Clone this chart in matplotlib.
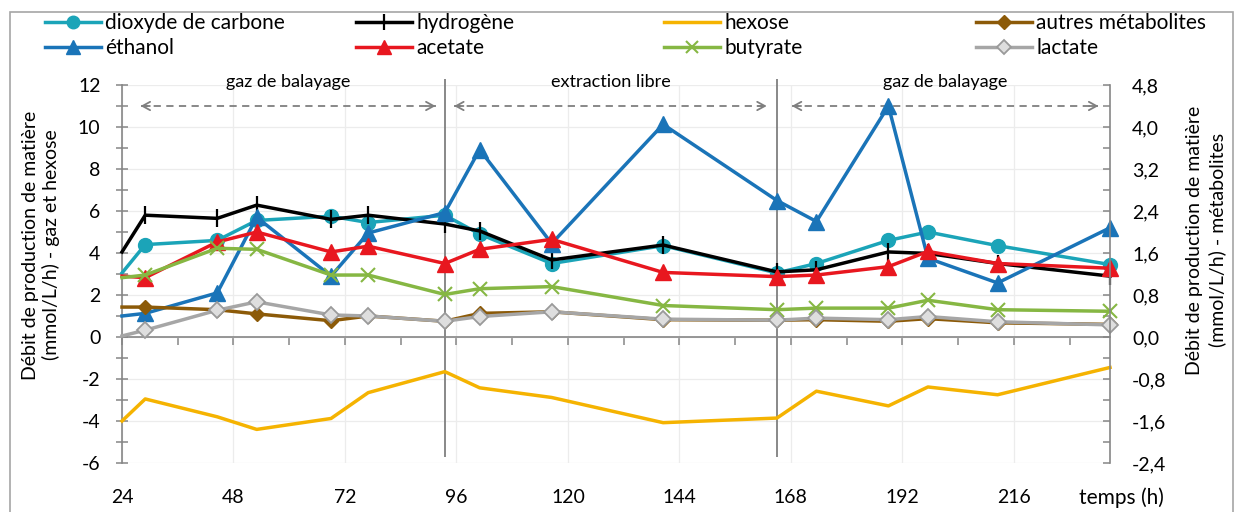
import matplotlib
matplotlib.use('Agg')
import matplotlib.pyplot as plt
from matplotlib.patches import Rectangle
from matplotlib.ticker import FixedLocator, FuncFormatter

plt.rcParams['font.family'] = ['Lato', 'DejaVu Sans']
plt.rcParams['axes.unicode_minus'] = False

# sampling times (h)
temps = [24, 29, 44.5, 53, 69, 77, 93.5, 101, 116.5, 140.5, 165, 173.5, 189, 197.5, 212.5, 236.7]

# gases and hexose, left axis (mmol/L/h)
co2 = [3.05, 4.4, 4.6, 5.55, 5.75, 5.45, 5.8, 4.9, 3.5, 4.35, 3.05, 3.5, 4.6, 5.0, 4.35, 3.45]
h2 = [4.05, 5.8, 5.65, 6.28, 5.6, 5.8, 5.38, 5.05, 3.67, 4.38, 3.1, 3.2, 4.05, 3.98, 3.5, 2.9]
hexose = [-4.0, -2.95, -3.8, -4.4, -3.88, -2.65, -1.65, -2.42, -2.88, -4.08, -3.86, -2.58,
          -3.28, -2.38, -2.75, -1.45]

# metabolites, right axis (mmol/L/h)
ethanol = [0.40, 0.45, 0.84, 2.28, 1.16, 1.98, 2.37, 3.57, 1.78, 4.05, 2.6, 2.2, 4.4, 1.5, 1.03, 2.08]
acetate = [1.16, 1.13, 1.81, 2.0, 1.62, 1.73, 1.40, 1.67, 1.86, 1.23, 1.15, 1.18, 1.34, 1.63, 1.40, 1.31]
butyrate = [1.13, 1.18, 1.69, 1.67, 1.18, 1.18, 0.81, 0.92, 0.96, 0.60, 0.52, 0.55, 0.55, 0.70, 0.52, 0.49]
autres = [0.57, 0.57, 0.52, 0.44, 0.31, 0.40, 0.30, 0.45, 0.48, 0.33, 0.32, 0.33, 0.30, 0.35, 0.27, 0.24]
lactate = [0.02, 0.13, 0.51, 0.67, 0.42, 0.40, 0.30, 0.39, 0.48, 0.34, 0.32, 0.36, 0.33, 0.39, 0.29, 0.23]

# operating phases: (label, start, end) in h, and the switch times
phases = [('gaz de balayage', 28, 91.5),
          ('extraction libre', 95.5, 162.8),
          ('gaz de balayage', 168.2, 234.2)]
switches = [93.5, 165]

xticks = [24, 48, 72, 96, 120, 144, 168, 192, 216]

W, H = 1238, 512
fig = plt.figure(figsize=(W / 100, H / 100), dpi=100)
ax = fig.add_axes([122 / W, 49 / H, 988 / W, 378 / H])
ax2 = ax.twinx()

skip_first = slice(1, None)  # first sample sits on the axis edge, no marker there
lw = 2.5
h_co2, = ax.plot(temps, co2, color='#1BA4B8', lw=lw, marker='o', ms=10,
                 markevery=skip_first, clip_on=False, zorder=3)
h_h2, = ax.plot(temps, h2, color='black', lw=lw, marker='|', ms=13, mew=1.6,
                markevery=skip_first, clip_on=False, zorder=4)
h_hex, = ax.plot(temps, hexose, color='#F5B301', lw=lw, clip_on=False, zorder=3)

h_eth, = ax2.plot(temps, ethanol, color='#1A74B8', lw=lw, marker='^', ms=11,
                  markevery=skip_first, clip_on=False)
h_ace, = ax2.plot(temps, acetate, color='#E8171F', lw=lw, marker='^', ms=11,
                  markevery=skip_first, clip_on=False)
h_but, = ax2.plot(temps, butyrate, color='#86B743', lw=lw, marker='x', ms=10, mew=1.5,
                  markevery=skip_first, clip_on=False)
h_aut, = ax2.plot(temps, autres, color='#8C5A08', lw=lw, marker='D', ms=7.5,
                  markevery=skip_first, clip_on=False)
h_lac, = ax2.plot(temps, lactate, color='#A6A6A6', lw=lw, marker='D', ms=8,
                  mfc='#DEDEDE', mec='#9A9A9A', mew=1.3, markevery=skip_first, clip_on=False)

# axes limits and ticks
ax.set_xlim(24, 236.7)
ax.set_ylim(-6, 12)
ax2.set_ylim(-2.4, 4.8)

axis_grey = '#868686'
ax.xaxis.set_major_locator(FixedLocator(xticks))
ax.xaxis.set_minor_locator(FixedLocator([t + 12 for t in xticks]))
ax.yaxis.set_major_locator(FixedLocator(range(-6, 13, 2)))
ax.yaxis.set_minor_locator(FixedLocator(range(-5, 12, 2)))
ax2.yaxis.set_major_locator(FixedLocator([-2.4, -1.6, -0.8, 0.0, 0.8, 1.6, 2.4, 3.2, 4.0, 4.8]))
ax2.yaxis.set_minor_locator(FixedLocator([-2.0, -1.2, -0.4, 0.4, 1.2, 2.0, 2.8, 3.6, 4.4]))
ax2.yaxis.set_major_formatter(FuncFormatter(lambda v, _: f'{v:.1f}'.replace('.', ',')))

ax.spines['bottom'].set_position(('data', 0))
ax.spines['top'].set_visible(False)
ax.spines['right'].set_visible(False)
ax2.spines['top'].set_visible(False)
ax2.spines['bottom'].set_visible(False)
ax2.spines['left'].set_visible(False)
for sp in (ax.spines['bottom'], ax.spines['left'], ax2.spines['right']):
    sp.set_color(axis_grey)
    sp.set_linewidth(1.2)

ax.tick_params(axis='x', which='both', direction='out', length=6, width=1.1,
               color=axis_grey, labelbottom=False)
ax.tick_params(axis='y', which='both', direction='inout', length=9, width=1.1,
               color=axis_grey, labelsize=14, pad=11)
ax2.tick_params(axis='y', which='both', direction='in', length=5, width=1.1,
                color=axis_grey, labelsize=14, pad=16)

# time labels sit below the plot, not on the zero line
secx = ax.secondary_xaxis('bottom')
secx.set_xticks(xticks)
secx.tick_params(length=0, labelsize=14, pad=19)
secx.spines['bottom'].set_visible(False)
fig.text(1121 / W, 1 - 498 / H, 'temps (h)', ha='center', va='center', fontsize=15)

ax.grid(True, which='major', color='#ECECEC', lw=0.9)
ax.set_axisbelow(True)

# phase separators, arrows and labels
grey = '#7F7F7F'
ax.vlines(switches, -5.7, 12.3, colors=grey, lw=1.3, clip_on=False, zorder=2)
for label, t0, t1 in phases:
    ax.plot([t0, t1], [11, 11], color=grey, lw=1.3, ls=(0, (4, 3)), zorder=2)
    for tip, tail in ((t0, t0 + 2), (t1, t1 - 2)):
        ax.annotate('', xy=(tip, 11), xytext=(tail, 11),
                    arrowprops=dict(arrowstyle='->,head_length=0.55,head_width=0.3',
                                    color=grey, lw=1.3, shrinkA=0, shrinkB=0))
    ax.text((t0 + t1) / 2, 12.15, label, ha='center', va='center', fontsize=13)

# axis titles
fig.text(41 / W, 1 - 245 / H, 'Débit de production de matière\n(mmol/L/h) - gaz et hexose',
         rotation=90, ha='center', va='center', fontsize=14, linespacing=1.25,
         multialignment='center')
fig.text(1206 / W, 1 - 240 / H, 'Débit de production de matière\n(mmol/L/h) - métabolites',
         rotation=90, ha='center', va='center', fontsize=14, linespacing=1.35,
         multialignment='center')

# legend: four columns, two rows
columns = [((h_co2, 'dioxyde de carbone'), (h_eth, 'éthanol')),
           ((h_h2, 'hydrogène'), (h_ace, 'acetate')),
           ((h_hex, 'hexose'), (h_but, 'butyrate')),
           ((h_aut, 'autres métabolites'), (h_lac, 'lactate'))]
col_x = [45, 356, 664, 976]
for x0, entries in zip(col_x, columns):
    fig.legend([e[0] for e in entries], [e[1] for e in entries], loc='upper left',
               bbox_to_anchor=(x0 / W, 1 - 13 / H), frameon=False, fontsize=15,
               handlelength=2.7, handletextpad=0.2, labelspacing=0.25,
               borderpad=0, borderaxespad=0, markerscale=0.9)

# chart frame
fig.patches.append(Rectangle((10 / W, -0.05), 1223 / W, 1 - 12 / H + 0.05,
                             transform=fig.transFigure, fill=False,
                             edgecolor='#A6A6A6', lw=1.2))

fig.savefig('out.png', dpi=100)
